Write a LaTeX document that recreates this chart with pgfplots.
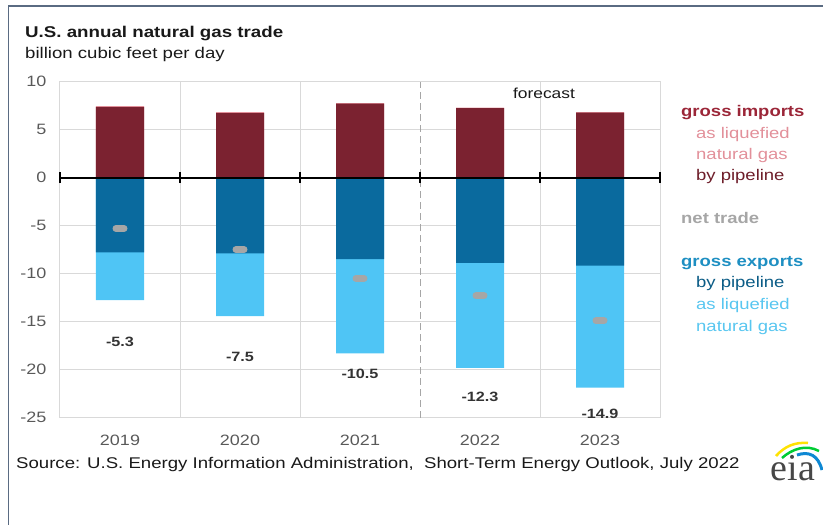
\documentclass[border=0pt]{standalone}
\usepackage{fontspec}
\setmainfont{Liberation Sans}[FakeStretch=1.2]
\newfontfamily\logofont{Liberation Serif}
\usepackage{pgfplots}
\usepackage{pgfplotstable}
\pgfplotsset{compat=1.18}
\definecolor{imppipe}{HTML}{7B2230}
\definecolor{implng}{HTML}{E2909A}
\definecolor{exppipe}{HTML}{0A6A9E}
\definecolor{explng}{HTML}{4FC5F5}
\definecolor{netgray}{HTML}{A6A6A6}
\definecolor{gridgray}{HTML}{D9D9D9}
\definecolor{ticktext}{HTML}{595959}
\definecolor{framecol}{HTML}{5A6B82}
\definecolor{impbold}{HTML}{9B2638}
\definecolor{expbold}{HTML}{1E8FC2}
\definecolor{imppipetxt}{HTML}{6E1E2A}
\definecolor{exppipetxt}{HTML}{0B5C86}
\definecolor{explngtxt}{HTML}{58C6F0}

\pgfplotstableread{
x imptot imppipe exppipe exptot net lab
0 7.44 7.34 -7.79 -12.75 -5.3 -17.1
1 6.82 6.72 -7.89 -14.42 -7.5 -18.65
2 7.76 7.70 -8.48 -18.30 -10.5 -20.45
3 7.27 7.22 -8.87 -19.80 -12.3 -22.8
4 6.82 6.77 -9.18 -21.88 -14.9 -24.55
}\trade

\begin{document}
\begin{tikzpicture}[x=1pt,y=1pt]
\useasboundingbox (0,0) rectangle (823,-525);
\draw[framecol, line width=1.5pt] (8.5,-525) -- (8.5,-6) -- (823,-6);

\begin{axis}[
  at={(60pt,-417.7pt)}, anchor=south west,
  scale only axis, width=600pt, height=336.2pt,
  xmin=-0.5, xmax=4.5, ymin=-25, ymax=10,
  ytick={-25,-20,...,10},
  yticklabels={-25,-20,-15,-10,-5,0,5,10},
  xtick={0,1,2,3,4},
  xticklabels={2019,2020,2021,2022,2023},
  minor xtick={0.5,1.5,3.5},
  ymajorgrids, xminorgrids,
  major grid style={gridgray, line width=1pt},
  minor grid style={gridgray, line width=1pt},
  axis line style={gridgray, line width=1pt},
  major tick length=0pt, minor tick length=0pt,
  tick label style={font=\fontsize{15}{18}\selectfont, text=ticktext},
  yticklabel style={xshift=-10pt},
  xticklabel style={yshift=-14pt},
  clip=false,
]
\addplot[ybar, bar width=48pt, bar shift=0pt, fill=implng, draw=none] table[x=x,y=imptot]{\trade};
\addplot[ybar, bar width=48pt, bar shift=0pt, fill=imppipe, draw=none] table[x=x,y=imppipe]{\trade};
\addplot[ybar, bar width=48pt, bar shift=0pt, fill=explng, draw=none] table[x=x,y=exptot]{\trade};
\addplot[ybar, bar width=48pt, bar shift=0pt, fill=exppipe, draw=none] table[x=x,y=exppipe]{\trade};

\draw[gray!70, line width=1pt, dash pattern=on 7pt off 4pt] (axis cs:2.5,-25) -- (axis cs:2.5,10);

\draw[black, line width=2pt] (axis cs:-0.5,0) -- (axis cs:4.5,0);
\draw[black, line width=1.5pt] (axis cs:-0.5,0) ++(0pt,-5.5pt) -- ++(0pt,11pt);
\draw[black, line width=1.5pt] (axis cs:0.5,0) ++(0pt,-5.5pt) -- ++(0pt,11pt);
\draw[black, line width=1.5pt] (axis cs:1.5,0) ++(0pt,-5.5pt) -- ++(0pt,11pt);
\draw[black, line width=1.5pt] (axis cs:2.5,0) ++(0pt,-5.5pt) -- ++(0pt,11pt);
\draw[black, line width=1.5pt] (axis cs:3.5,0) ++(0pt,-5.5pt) -- ++(0pt,11pt);
\draw[black, line width=1.5pt] (axis cs:4.5,0) ++(0pt,-5.5pt) -- ++(0pt,11pt);

\addplot[only marks, mark=-, mark size=4pt,
  mark options={draw=netgray, line width=7pt, line cap=round}] table[x=x,y=net]{\trade};

\addplot[draw=none, mark=none, nodes near coords, point meta=explicit symbolic,
  nodes near coords style={font=\bfseries\fontsize{13.5}{16}\selectfont, text=black!80, anchor=center}]
  table[x=x, y=lab, meta=net]{\trade};
\end{axis}

\node[anchor=base west, inner sep=0, font=\bfseries\fontsize{15.6}{19}\selectfont, text=black!90] at (25,-37) {U.S. annual natural gas trade};
\node[anchor=base west, inner sep=0, font=\fontsize{15.5}{19}\selectfont, text=black!90] at (25,-58) {billion cubic feet per day};
\node[anchor=base, inner sep=0, font=\fontsize{14.5}{18}\selectfont, text=black!90] at (544,-98) {forecast};

\node[anchor=base west, inner sep=0, font=\bfseries\fontsize{15.4}{18}\selectfont, text=impbold] at (681,-116.5) {gross imports};
\node[anchor=base west, inner sep=0, font=\fontsize{15.4}{18}\selectfont, text=implng] at (696,-138.2) {as liquefied};
\node[anchor=base west, inner sep=0, font=\fontsize{15.4}{18}\selectfont, text=implng] at (696,-159.9) {natural gas};
\node[anchor=base west, inner sep=0, font=\fontsize{15.4}{18}\selectfont, text=imppipetxt] at (696,-180.8) {by pipeline};
\node[anchor=base west, inner sep=0, font=\bfseries\fontsize{15.4}{18}\selectfont, text=netgray] at (681,-223.3) {net trade};
\node[anchor=base west, inner sep=0, font=\bfseries\fontsize{15.4}{18}\selectfont, text=expbold] at (681,-266.7) {gross exports};
\node[anchor=base west, inner sep=0, font=\fontsize{15.4}{18}\selectfont, text=exppipetxt] at (696,-287.9) {by pipeline};
\node[anchor=base west, inner sep=0, font=\fontsize{15.4}{18}\selectfont, text=explngtxt] at (696,-309.6) {as liquefied};
\node[anchor=base west, inner sep=0, font=\fontsize{15.4}{18}\selectfont, text=explngtxt] at (696,-331.3) {natural gas};

\node[anchor=base west, inner sep=0, font=\fontsize{15.5}{18}\selectfont, text=black!90] at (16,-468.3) {Source: U.S. Energy Information Administration,\ \ Short-Term Energy Outlook, July 2022};

% eia logo
\draw[yellow!85!orange, line width=2.5pt] (776,-456) .. controls (785,-446) and (795,-442) .. (808,-443);
\draw[green!60!teal, line width=2.5pt] (782,-458) .. controls (792,-449) and (806,-444) .. (819,-451);
\draw[cyan!70!blue, line width=3pt] (797,-455) .. controls (809,-451) and (818,-455) .. (822,-470);
\node[anchor=base, inner sep=0, font=\logofont\fontsize{38}{40}\selectfont, text=black!72] at (793,-480) {eia};
\end{tikzpicture}
\end{document}
